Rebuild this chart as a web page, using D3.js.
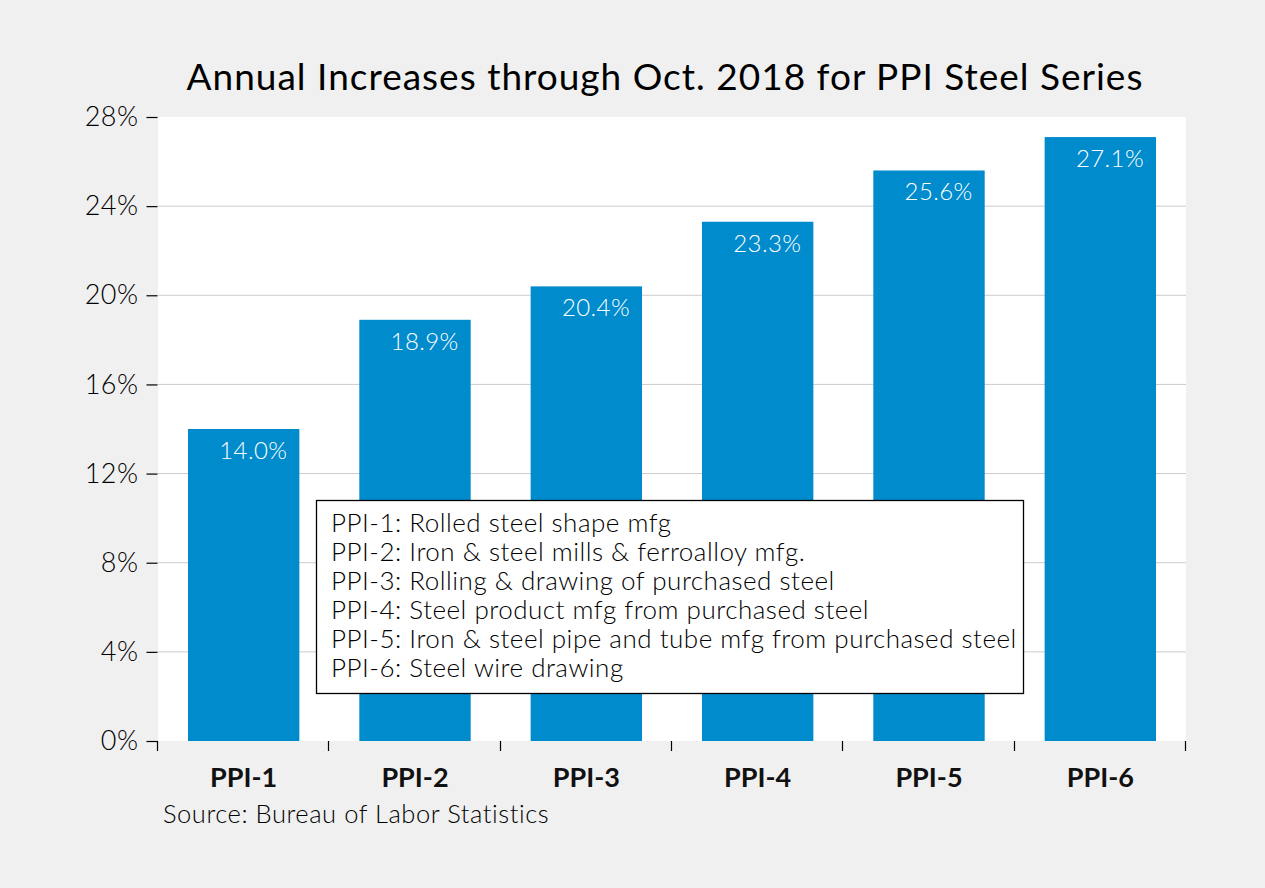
<!DOCTYPE html>
<html>
<head>
<meta charset="utf-8">
<script src="https://cdn.jsdelivr.net/npm/d3@7"></script>
<style>
  body { margin: 0; background: #f0f0f0; }
  svg { display: block; font-family: Lato, "Open Sans", sans-serif; }
</style>
</head>
<body>
<svg id="chart" width="1265" height="888"></svg>
<script>
const categories = ["PPI-1", "PPI-2", "PPI-3", "PPI-4", "PPI-5", "PPI-6"];
const values = [14.0, 18.9, 20.4, 23.3, 25.6, 27.1];
const yTicks = [0, 4, 8, 12, 16, 20, 24, 28];
const legendLines = [
  "PPI-1: Rolled steel shape mfg",
  "PPI-2: Iron & steel mills & ferroalloy mfg.",
  "PPI-3: Rolling & drawing of purchased steel",
  "PPI-4: Steel product mfg from purchased steel",
  "PPI-5: Iron & steel pipe and tube mfg from purchased steel",
  "PPI-6: Steel wire drawing"
];
const title = "Annual Increases through Oct. 2018 for PPI Steel Series";
const source = "Source: Bureau of Labor Statistics";

const svg = d3.select("#chart");
const W = 1265, H = 888;
const m = { left: 158, right: 1186, top: 117, bottom: 741 };

svg.append("rect").attr("width", W).attr("height", H).attr("fill", "#f0f0f0");
svg.append("rect").attr("x", m.left).attr("y", m.top)
  .attr("width", m.right - m.left).attr("height", m.bottom - m.top).attr("fill", "#fff");

const x = d3.scaleBand().domain(categories).range([m.left, m.right]).paddingInner(0.35).paddingOuter(0.175);
const y = d3.scaleLinear().domain([0, 28]).range([m.bottom, m.top]);

// gridlines
svg.append("g").selectAll("line").data(yTicks.filter(t => t > 0 && t < 28)).join("line")
  .attr("x1", m.left).attr("x2", m.right)
  .attr("y1", d => y(d)).attr("y2", d => y(d))
  .attr("stroke", "#cccccc").attr("stroke-width", 1);

// y axis
const yAxis = d3.axisLeft(y).tickValues(yTicks).tickFormat(d => d + "%").tickSize(11).tickPadding(8);
const gy = svg.append("g").attr("transform", `translate(${m.left - 0.5},0)`).call(yAxis);
gy.select(".domain").remove();
gy.selectAll(".tick line").attr("stroke", "#000").attr("stroke-width", 1.2);
gy.selectAll(".tick text").attr("font-size", 27).attr("font-weight", 300).attr("fill", "#000")
  .attr("font-family", "Lato, sans-serif").attr("letter-spacing", 0.5);

// x axis ticks at band boundaries
const step = x.step();
const boundaries = d3.range(categories.length + 1).map(i => m.left + i * step);
svg.append("g").selectAll("line").data(boundaries).join("line")
  .attr("x1", d => Math.round(d) - 0.5).attr("x2", d => Math.round(d) - 0.5)
  .attr("y1", m.bottom).attr("y2", m.bottom + 10)
  .attr("stroke", "#000").attr("stroke-width", 1.2);

// x labels
svg.append("g").selectAll("text").data(categories).join("text")
  .attr("x", d => x(d) + x.bandwidth() / 2).attr("y", 787)
  .attr("text-anchor", "middle").attr("font-size", 27).attr("font-weight", 700)
  .attr("fill", "#111").text(d => d);

// bars
svg.append("g").selectAll("rect").data(values).join("rect")
  .attr("x", (d, i) => x(categories[i])).attr("width", x.bandwidth())
  .attr("y", d => y(d)).attr("height", d => y(0) - y(d))
  .attr("fill", "#008bcd");

// value labels
svg.append("g").selectAll("text").data(values).join("text")
  .attr("x", (d, i) => x(categories[i]) + x.bandwidth() - 12)
  .attr("y", d => y(d) + 30)
  .attr("text-anchor", "end").attr("font-size", 24).attr("font-weight", 300)
  .attr("letter-spacing", 0.4)
  .attr("fill", "#fff").text(d => d.toFixed(1) + "%");

// title
svg.append("text").attr("x", 665).attr("y", 90).attr("text-anchor", "middle")
  .attr("font-size", 37).attr("font-weight", 400).attr("letter-spacing", 1.0)
  .attr("fill", "#000").text(title);

// legend box
const lg = svg.append("g");
lg.append("rect").attr("x", 316.5).attr("y", 500.5).attr("width", 707).attr("height", 193)
  .attr("fill", "#fff").attr("stroke", "#000").attr("stroke-width", 1.3);
lg.selectAll("text").data(legendLines).join("text")
  .attr("x", 331).attr("y", (d, i) => 532 + i * 29)
  .attr("font-size", 26).attr("font-weight", 300).attr("letter-spacing", 0.5)
  .attr("fill", "#000").text(d => d);

// source
svg.append("text").attr("x", 163).attr("y", 823).attr("font-size", 25.5).attr("font-weight", 300)
  .attr("letter-spacing", 0.55)
  .attr("fill", "#000").text(source);
</script>
</body>
</html>
